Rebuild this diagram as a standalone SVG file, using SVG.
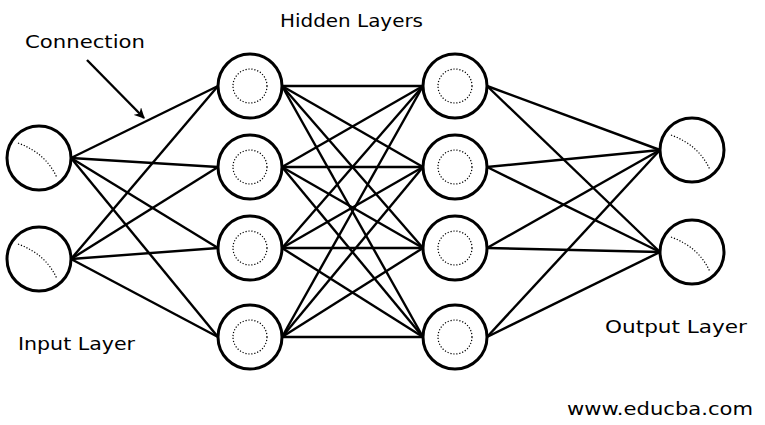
<svg xmlns="http://www.w3.org/2000/svg" width="765" height="425" viewBox="0 0 765 425">
<style>
.node{fill:#fff;stroke:#000;stroke-width:3}
.dot{fill:none;stroke:#000;stroke-width:1.2;stroke-dasharray:1.2 1.8}
.conn line{stroke:#000;stroke-width:2.4}
text{font-family:"DejaVu Sans",Verdana,sans-serif;font-size:18px;fill:#000}
</style>
<defs>
<marker id="ah" viewBox="0 0 10 10" refX="9" refY="5" markerWidth="4.5" markerHeight="4.5" orient="auto" markerUnits="strokeWidth">
<path d="M0,0 L10,5 L0,10 L3,5 z" fill="#000"/>
</marker>
<path id="arc" d="M-21,-15 Q7.5,-4.5 18,20"/>
</defs>
<rect width="765" height="425" fill="#fff"/>
<g id="connectors" class="conn">
<line x1="71" y1="158" x2="218" y2="86"/><line x1="71" y1="158" x2="218" y2="167"/><line x1="71" y1="158" x2="218" y2="248"/><line x1="71" y1="158" x2="218" y2="337"/>
<line x1="71" y1="259" x2="218" y2="86"/><line x1="71" y1="259" x2="218" y2="167"/><line x1="71" y1="259" x2="218" y2="248"/><line x1="71" y1="259" x2="218" y2="337"/>
<line x1="282" y1="86" x2="423" y2="86"/><line x1="282" y1="86" x2="423" y2="167"/><line x1="282" y1="86" x2="423" y2="248"/><line x1="282" y1="86" x2="423" y2="337"/>
<line x1="282" y1="167" x2="423" y2="86"/><line x1="282" y1="167" x2="423" y2="167"/><line x1="282" y1="167" x2="423" y2="248"/><line x1="282" y1="167" x2="423" y2="337"/>
<line x1="282" y1="248" x2="423" y2="86"/><line x1="282" y1="248" x2="423" y2="167"/><line x1="282" y1="248" x2="423" y2="248"/><line x1="282" y1="248" x2="423" y2="337"/>
<line x1="282" y1="337" x2="423" y2="86"/><line x1="282" y1="337" x2="423" y2="167"/><line x1="282" y1="337" x2="423" y2="248"/><line x1="282" y1="337" x2="423" y2="337"/>
<line x1="487" y1="86" x2="660" y2="150"/><line x1="487" y1="86" x2="660" y2="252"/>
<line x1="487" y1="167" x2="660" y2="150"/><line x1="487" y1="167" x2="660" y2="252"/>
<line x1="487" y1="248" x2="660" y2="150"/><line x1="487" y1="248" x2="660" y2="252"/>
<line x1="487" y1="337" x2="660" y2="150"/><line x1="487" y1="337" x2="660" y2="252"/>
<line x1="87" y1="60" x2="144" y2="118" stroke-width="3" marker-end="url(#ah)"/>
</g>
<g id="in1"><circle class="node" cx="39" cy="158" r="32"/><use href="#arc" class="dot" x="39" y="158"/></g>
<g id="in2"><circle class="node" cx="39" cy="259" r="32"/><use href="#arc" class="dot" x="39" y="259"/></g>
<g id="h1a"><circle class="node" cx="250" cy="86" r="32"/><circle class="dot" cx="250" cy="86" r="17"/></g>
<g id="h1b"><circle class="node" cx="250" cy="167" r="32"/><circle class="dot" cx="250" cy="167" r="17"/></g>
<g id="h1c"><circle class="node" cx="250" cy="248" r="32"/><circle class="dot" cx="250" cy="248" r="17"/></g>
<g id="h1d"><circle class="node" cx="250" cy="337" r="32"/><circle class="dot" cx="250" cy="337" r="17"/></g>
<g id="h2a"><circle class="node" cx="455" cy="86" r="32"/><circle class="dot" cx="455" cy="86" r="17"/></g>
<g id="h2b"><circle class="node" cx="455" cy="167" r="32"/><circle class="dot" cx="455" cy="167" r="17"/></g>
<g id="h2c"><circle class="node" cx="455" cy="248" r="32"/><circle class="dot" cx="455" cy="248" r="17"/></g>
<g id="h2d"><circle class="node" cx="455" cy="337" r="32"/><circle class="dot" cx="455" cy="337" r="17"/></g>
<g id="out1"><circle class="node" cx="692" cy="150" r="32"/><use href="#arc" class="dot" x="692" y="150"/></g>
<g id="out2"><circle class="node" cx="692" cy="252" r="32"/><use href="#arc" class="dot" x="692" y="252"/></g>
<g id="labels">
<text x="25" y="48" textLength="120" lengthAdjust="spacingAndGlyphs">Connection</text>
<text x="280" y="27" textLength="143" lengthAdjust="spacingAndGlyphs">Hidden Layers</text>
<text x="18" y="350" textLength="117" lengthAdjust="spacingAndGlyphs">Input Layer</text>
<text x="605" y="333" textLength="142" lengthAdjust="spacingAndGlyphs">Output Layer</text>
<text x="567" y="415" textLength="186" lengthAdjust="spacingAndGlyphs">www.educba.com</text>
</g>
</svg>
